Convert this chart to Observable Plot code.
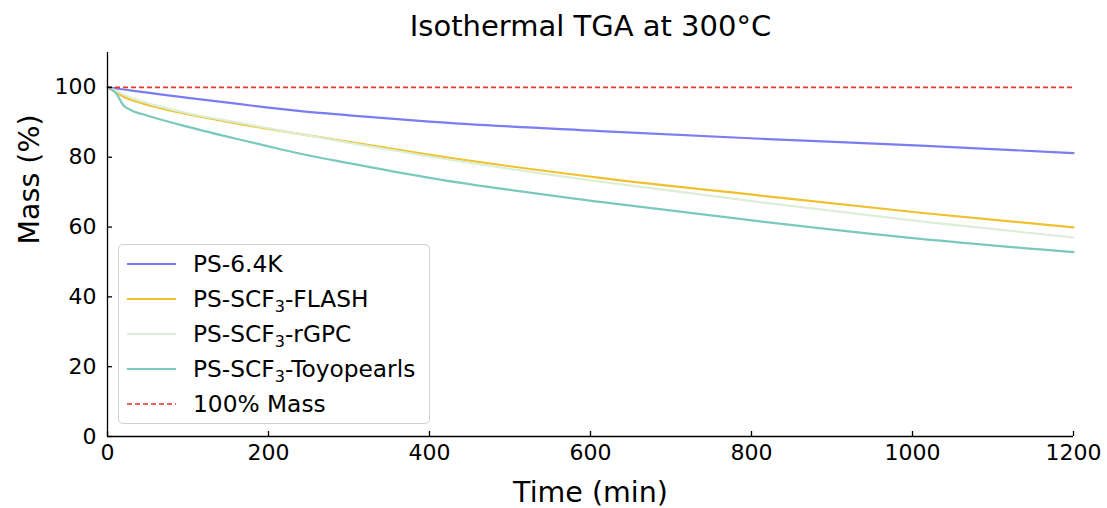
<!DOCTYPE html>
<html><head><meta charset="utf-8">
<script src="https://cdn.jsdelivr.net/npm/d3@7"></script>
<script src="https://cdn.jsdelivr.net/npm/@observablehq/plot@0.6"></script>
<style>
body{margin:0;background:#fff;font-family:"DejaVu Sans",sans-serif}
#wrap{position:relative;width:1107px;height:508px}
#legend{position:absolute;left:118px;top:244px;width:310px;height:178px;border:1.3px solid #d0d0d0;border-radius:5px;background:rgba(255,255,255,0.85)}
.row{position:absolute;left:0;height:35px;display:flex;align-items:center;font-size:23.3px;color:#000;white-space:nowrap}
.row svg{margin-left:8px;margin-right:17px}
.sub{font-size:16px;position:relative;top:5px}
</style></head>
<body><div id="wrap"></div>
<script>
// ---- data ----
const times = [0, 10, 20, 30, 50, 100, 165, 200, 240, 300, 400, 612, 811, 1010, 1200];
const ps64k = [100, 99.7, 99.4, 99.1, 98.5, 97.0, 95.2, 94.2, 93.2, 92.0, 90.2, 87.5, 85.3, 83.3, 81.2];
const flash = [100, 98.7, 97.3, 96.4, 95.0, 92.3, 89.5, 88.1, 86.6, 84.4, 80.7, 74.1, 69.0, 64.1, 59.9];
const rgpc  = [100, 99.1, 98.0, 97.0, 95.5, 92.6, 89.8, 88.3, 86.6, 84.1, 80.2, 73.0, 67.1, 61.6, 57.0];
const toyo  = [100, 98.5, 94.8, 93.4, 91.9, 88.7, 85.0, 83.1, 81.0, 78.3, 74.1, 67.2, 61.6, 56.6, 52.8];
const seriesNames = ["PS-6.4K", "PS-SCF₃-FLASH", "PS-SCF₃-rGPC", "PS-SCF₃-Toyopearls"];
const seriesColors = ["#7b7bf2", "#f0c12e", "#dcefd6", "#79c9bf"];
const refMass = 100;
const refLabel = "100% Mass";
const refColor = "#e8342f";
const xTicks = [0, 200, 400, 600, 800, 1000, 1200];
const yTicks = [0, 20, 40, 60, 80, 100];
const titleText = "Isothermal TGA at 300°C";
const xLabel = "Time (min)";
const yLabel = "Mass (%)";

const seriesValues = [ps64k, flash, rgpc, toyo];
const data = seriesNames.flatMap((s, i) => times.map((t, j) => ({series: s, t, v: seriesValues[i][j]})));

const W = 1107, H = 508, mt = 52, mb = 72, ml = 107, mr = 34, tick = 5;
const chart = Plot.plot({
  width: W, height: H,
  marginTop: mt, marginBottom: mb, marginLeft: ml, marginRight: mr,
  style: {fontFamily: "DejaVu Sans", fontSize: "22px", color: "#000", background: "transparent", overflow: "visible"},
  x: {domain: [0, 1200]},
  y: {domain: [0, 110]},
  color: {domain: seriesNames, range: seriesColors},
  marks: [
    Plot.line(data, {x: "t", y: "v", z: "series", stroke: "series", curve: "monotone-x", strokeWidth: 2.2}),
    Plot.ruleY([refMass], {stroke: refColor, strokeDasharray: "5,3", strokeWidth: 1.6}),
    Plot.ruleX([0], {stroke: "#000", strokeWidth: 1.3}),
    Plot.ruleY([0], {stroke: "#000", strokeWidth: 1.3}),
    Plot.tickX(xTicks, {x: d => d, insetTop: H - mt - mb - tick, stroke: "#000", strokeWidth: 1.3}),
    Plot.tickY(yTicks, {y: d => d, insetRight: W - ml - mr - tick, stroke: "#000", strokeWidth: 1.3}),
    Plot.axisX({ticks: xTicks, tickSize: 0, tickPadding: 8, tickFormat: d => String(d), label: null, fontSize: 22}),
    Plot.axisY({ticks: yTicks, tickSize: 0, tickPadding: 11, tickFormat: d => String(d), label: null, fontSize: 22}),
    Plot.text([titleText], {text: d => d, frameAnchor: "top", dy: -17, lineAnchor: "bottom", fontSize: 29}),
    Plot.text([xLabel], {text: d => d, frameAnchor: "bottom", dy: 65, lineAnchor: "bottom", fontSize: 28.5}),
    Plot.text([yLabel], {text: d => d, frameAnchor: "left", dx: -69, rotate: -90, lineAnchor: "bottom", fontSize: 28.5})
  ]
});
const wrap = document.getElementById("wrap");
wrap.appendChild(chart);

// legend
const legend = document.createElement("div");
legend.id = "legend";
const entries = seriesNames.map((s, i) => ({label: s, color: seriesColors[i], dash: null, w: 2.2}))
  .concat([{label: refLabel, color: refColor, dash: "5,3", w: 1.6}]);
entries.forEach((e, i) => {
  const row = document.createElement("div");
  row.className = "row";
  row.style.top = (1 + i * 35) + "px";
  const html = e.label.replace("₃", '<span class="sub">3</span>');
  row.innerHTML = `<svg width="49" height="10"><line x1="0" x2="49" y1="5" y2="5" stroke="${e.color}" stroke-width="${e.w}" ${e.dash ? `stroke-dasharray="${e.dash}"` : ""}/></svg><span>${html}</span>`;
  legend.appendChild(row);
});
wrap.appendChild(legend);
</script>
</body></html>
